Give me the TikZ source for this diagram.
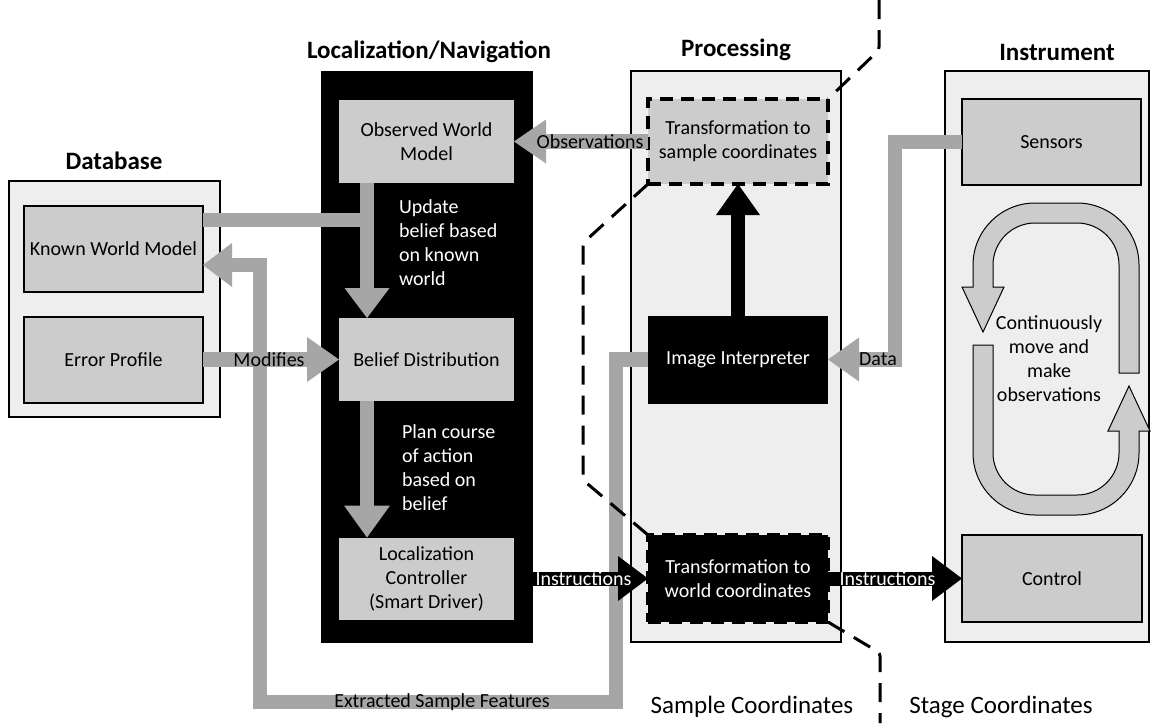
\documentclass[tikz,border=0pt]{standalone}
\usepackage{fontspec}
\setmainfont{Carlito}
\usetikzlibrary{calc}
\definecolor{panelfill}{HTML}{EEEEEE}
\definecolor{boxfill}{HTML}{CCCCCC}
\definecolor{flow}{HTML}{A6A6A6}
\begin{document}
\begin{tikzpicture}[x=1pt,y=-1pt,
  every node/.style={inner sep=0pt, outer sep=0pt, font=\fontsize{20}{24}\selectfont},
  panel/.style={draw=black, line width=1.5pt, fill=panelfill, anchor=north west},
  darkpanel/.style={fill=black, anchor=north west},
  box/.style={draw=black, line width=2pt, fill=boxfill, minimum width=179pt, minimum height=86pt, align=center},
  softbox/.style={fill=boxfill, minimum width=175pt, minimum height=83pt, align=center},
  dashbox/.style={draw=black, line width=3.5pt, dash pattern=on 13pt off 8pt, minimum width=180pt, minimum height=86pt, align=center},
  title/.style={font=\bfseries\fontsize{25}{30}\selectfont},
  flowline/.style={draw=flow, line width=14.5pt, line join=miter},
  blackline/.style={draw=black, line width=14pt},
  boundary/.style={draw=black, line width=3pt, dash pattern=on 19pt off 11pt, rounded corners=3pt},
  bignote/.style={font=\fontsize{25}{30}\selectfont},
]
\useasboundingbox (0,0) rectangle (1151,723);

% ---- column panels ----
\node[panel, minimum width=211pt, minimum height=236pt] (dbp) at (9,181) {};
\node[darkpanel, minimum width=212pt, minimum height=572pt] (locp) at (321,71) {};
\node[panel, minimum width=210pt, minimum height=571pt] (procp) at (631,71) {};
\node[panel, minimum width=204pt, minimum height=571pt] (instp) at (945,71) {};

% ---- column titles ----
\node[title] (dbt) at (114,161) {Database};
\node[title] (lnt) at (429,52) {Localization/Navigation};
\node[title] (prt) at (736,50) {Processing};
\node[title] (int) at (1057,52) {Instrument};

% ---- blocks ----
\node[box] (kwm) at (113.5,249) {Known World Model};
\node[box] (ep) at (113.5,359.5) {Error Profile};
\node[softbox] (owm) at (426.5,141.5) {Observed World\\Model};
\node[softbox] (bd) at (426.5,359.5) {Belief Distribution};
\node[softbox, minimum height=82pt] (lc) at (426.5,578.5) {Localization\\Controller\\(Smart Driver)};
\node[dashbox, fill=boxfill, minimum height=85pt] (ts) at (738,141.5) {Transformation to\\sample coordinates};
\node[fill=black, text=white, minimum width=180pt, minimum height=88pt, align=center] (ii) at (738,359.5) {Image Interpreter};
\node[dashbox, fill=black, text=white, minimum height=87pt] (tw) at (738,578.5) {Transformation to\\world coordinates};
\node[box] (sens) at (1051.5,142) {Sensors};
\node[box, minimum width=180pt, minimum height=87pt] (ctrl) at (1052,578.5) {Control};

% ---- grey flows ----
% observations
\draw[flowline] (ts.west) -- ($(owm.east)+(30,0)$);
\fill[flow] (owm.east) -- ++(32,-22) -- ++(0,44) -- cycle;
% update belief from observed and known world
\coordinate (updtop) at ($(owm.south west)+(28,0)$);
\coordinate (updtip) at ($(bd.north west)+(28,0)$);
\coordinate (kwout) at ($(kwm.north east)+(0,14)$);
\draw[flowline] (kwout) -- (kwout -| updtop);
\draw[flowline] (updtop) -- ($(updtip)+(0,-29)$);
\fill[flow] (updtip) -- ++(-22.5,-30) -- ++(45,0) -- cycle;
% error profile modifies belief
\draw[flowline] (ep.east) -- ($(bd.west)+(-30,0)$);
\fill[flow] (bd.west) -- ++(-32,-22.5) -- ++(0,45) -- cycle;
% plan course of action
\coordinate (pltop) at ($(bd.south west)+(28,0)$);
\coordinate (pltip) at ($(lc.north west)+(28,0)$);
\draw[flowline] (pltop) -- ($(pltip)+(0,-30)$);
\fill[flow] (pltip) -- ++(-23,-32) -- ++(46,0) -- cycle;
% sensor data
\coordinate (dturn) at ($(sens.west)+(-67,0)$);
\draw[flowline] (sens.west) -- (dturn) -- (dturn |- ii.east) -- ($(ii.east)+(29,0)$);
\fill[flow] (ii.east) -- ++(31,-22) -- ++(0,44) -- cycle;
% extracted sample features
\coordinate (ex1) at ($(ii.west)+(-32,0)$);
\coordinate (ex2) at ($(ex1)+(0,342.5)$);
\coordinate (exend) at ($(kwm.east)+(0,16)$);
\coordinate (ex3) at ($(ex2)+(-356,0)$);
\draw[flowline] (ii.west) -- (ex1) -- (ex2) -- (ex3) -- (ex3 |- exend) -- ($(exend)+(27,0)$);
\fill[flow] (exend) -- ++(29,-22) -- ++(0,44) -- cycle;

% ---- black flows ----
\draw[blackline] (ii.north) -- ($(ts.south)+(0,29)$);
\fill[black] (ts.south) -- ++(-22,31) -- ++(44,0) -- cycle;
\draw[blackline] (lc.east) -- ($(tw.west)+(-28,0)$);
\fill[black] (tw.west) -- ++(-30,-22.5) -- ++(0,45) -- cycle;
\draw[blackline] (tw.east) -- ($(ctrl.west)+(-28,0)$);
\fill[black] (ctrl.west) -- ++(-30,-22.5) -- ++(0,45) -- cycle;

% ---- flow labels ----
\node (obsl) at (590,142) {Observations};
\node (modl) at (269,359.5) {Modifies};
\node (datal) at (878,359.5) {Data};
\node[text=white] (ins1) at (583.5,578.5) {Instructions};
\node[text=white] (ins2) at (887.5,578.5) {Instructions};
\node (esf) at (442,702) {Extracted Sample Features};
\node[text=white, align=left, anchor=north west] (upd) at (399,200) {Update\\belief based\\on known\\world};
\node[text=white, align=left, anchor=north west] (plan) at (402,425) {Plan course\\of action\\based on\\belief};

% ---- instrument motion loop ----
\foreach \r in {0,180} {
  \begin{scope}[rotate around={\r:(1056,359)}]
    \filldraw[fill=boxfill, draw=black, line width=1pt]
      (1139,373) -- (1139,265)
      .. controls (1139,230.8) and (1111.2,203) .. (1077,203)
      -- (1035,203)
      .. controls (1000.8,203) and (973,230.8) .. (973,265)
      -- (973,287) -- (962,287) -- (983,332) -- (1004,287) -- (993,287)
      -- (993,265)
      .. controls (993,241.8) and (1011.8,223) .. (1035,223)
      -- (1077,223)
      .. controls (1100.2,223) and (1119,241.8) .. (1119,265)
      -- (1119,373) -- cycle;
  \end{scope}
}
\node[align=center] (loop) at (1049,359) {Continuously\\move and\\make\\observations};

% ---- coordinate-frame boundary ----
\coordinate (bA) at (879,0);
\coordinate (bB) at (879,50);
\coordinate (bC) at (583,243);
\coordinate (bD) at (583,480);
\coordinate (bE) at (880,653);
\coordinate (bF) at (880,723);
\draw[boundary] (bA) -- (bB) -- (ts.north east);
\draw[boundary] (ts.south west) -- (bC) -- (bD) -- (tw.north west);
\draw[boundary] (tw.south east) -- (bE) -- (bF);

\node[bignote] (sc) at (752,707) {Sample Coordinates};
\node[bignote] (stc) at (1001,707) {Stage Coordinates};
\end{tikzpicture}
\end{document}
